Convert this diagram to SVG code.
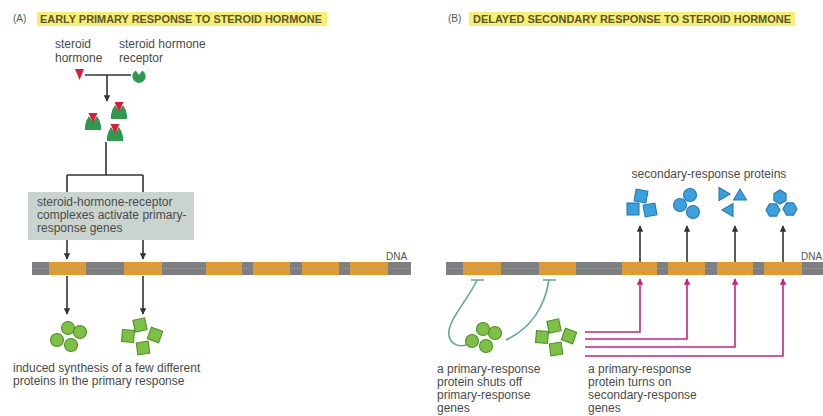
<svg xmlns="http://www.w3.org/2000/svg" width="823" height="416" viewBox="0 0 823 416">
  <style>
    .lbl { font-family: "Liberation Sans", Arial, sans-serif; font-size: 12px; fill: #4a4a4a; }
    .ttl { font-family: "Liberation Sans", Arial, sans-serif; font-size: 10.5px; font-weight: bold; fill: #5a5530; }
    .tag { font-family: "Liberation Sans", Arial, sans-serif; font-size: 10px; fill: #555; }
    .hl { fill: #f7ef72; }
    .ln { stroke: #333; stroke-width: 1.6; fill: none; }
    .mg { stroke: #c8237f; stroke-width: 1.6; fill: none; }
    .tl { stroke: #5ea898; stroke-width: 1.6; fill: none; }
    .dna { fill: #7e7f81; }
    .dnaline { stroke: #9a9b9d; stroke-width: 1; }
    .gene { fill: #e39a2c; }
    .gc { fill: #7cc143; stroke: #4f8f2a; stroke-width: 1.1; }
    .bl { fill: #3ba0de; stroke: #2a78b2; stroke-width: 1.1; }
    .rcp { fill: #2f9a4f; }
    .hor { fill: #d81e3c; }
  </style>
  <defs>
    <marker id="ah" viewBox="0 0 10 10" refX="9" refY="5" markerWidth="4" markerHeight="4" orient="auto" markerUnits="strokeWidth">
      <path d="M0 0 L10 5 L0 10 Z" fill="#333"/>
    </marker>
    <marker id="ahm" viewBox="0 0 10 10" refX="9" refY="5" markerWidth="4" markerHeight="4" orient="auto" markerUnits="strokeWidth">
      <path d="M0 0 L10 5 L0 10 Z" fill="#c8237f"/>
    </marker>
    <!-- hormone-receptor complex: green bell with the red hormone in its notch -->
    <g id="cplx">
      <path class="rcp" d="M-8 16 L-8 12 Q-7 6 -4 2 L0 8 L4 2 Q7 6 8 12 L8 16 Z"/>
      <path class="hor" d="M-4.5 -1 L4.5 -1 L0 9 Z"/>
    </g>
    <rect id="sq" x="-6" y="-6" width="12" height="12"/>
    <polygon id="hex" points="7,0 3.5,6.1 -3.5,6.1 -7,0 -3.5,-6.1 3.5,-6.1"/>
    <polygon id="tri" points="7,0 -4,6.5 -4,-6.5"/>
  </defs>

  <rect width="823" height="416" fill="#ffffff"/>

  <!-- panel headings -->
  <g id="headA">
    <text class="tag" x="13" y="22">(A)</text>
    <rect class="hl" x="37" y="12" width="290" height="14"/>
    <text class="ttl" x="40" y="23" textLength="282" lengthAdjust="spacingAndGlyphs">EARLY PRIMARY RESPONSE TO STEROID HORMONE</text>
  </g>
  <g id="headB">
    <text class="tag" x="448" y="22">(B)</text>
    <rect class="hl" x="469" y="12" width="326" height="14"/>
    <text class="ttl" x="473" y="23" textLength="318" lengthAdjust="spacingAndGlyphs">DELAYED SECONDARY RESPONSE TO STEROID HORMONE</text>
  </g>

  <!-- connectors -->
  <g id="connectors">
    <path class="ln" d="M85 75 H131"/>
    <path class="ln" d="M107 75 V101" marker-end="url(#ah)"/>
    <path class="ln" d="M106 142 V175 M67 175 H143 M67 175 V192 M143 175 V192"/>
    <path class="ln" d="M67 240 V259" marker-end="url(#ah)"/>
    <path class="ln" d="M143 240 V259" marker-end="url(#ah)"/>
    <path class="ln" d="M67 276 V314" marker-end="url(#ah)"/>
    <path class="ln" d="M143 276 V314" marker-end="url(#ah)"/>

    <path class="ln" d="M640 262 V226" marker-end="url(#ah)"/>
    <path class="ln" d="M687 262 V226" marker-end="url(#ah)"/>
    <path class="ln" d="M735 262 V226" marker-end="url(#ah)"/>
    <path class="ln" d="M783 262 V226" marker-end="url(#ah)"/>

    <path class="mg" d="M585 332 H640 V279" marker-end="url(#ahm)"/>
    <path class="mg" d="M585 339 H687 V279" marker-end="url(#ahm)"/>
    <path class="mg" d="M585 347 H735 V279" marker-end="url(#ahm)"/>
    <path class="mg" d="M585 356 H783 V279" marker-end="url(#ahm)"/>

    <path class="tl" d="M471 280 H484 M477 280 C468 300 446 322 449 336 C451 345 460 347 466 345"/>
    <path class="tl" d="M543 280 H556 M549 280 C545 305 532 328 506 340"/>
  </g>

  <!-- hormone and receptor -->
  <g id="hormone">
    <text class="lbl" x="55" y="48">steroid</text>
    <text class="lbl" x="55" y="62">hormone</text>
    <path class="hor" d="M75 69 L84 69 L79.5 80 Z"/>
  </g>
  <g id="receptor">
    <text class="lbl" x="119" y="48">steroid hormone</text>
    <text class="lbl" x="119" y="62">receptor</text>
    <path class="rcp" d="M135.8 70.4 L139 75 L142.2 70.4 A6.7 6.7 0 1 1 135.8 70.4 Z"/>
  </g>

  <g id="complexes">
    <use href="#cplx" x="119" y="103"/>
    <use href="#cplx" x="93" y="114"/>
    <use href="#cplx" x="115" y="125"/>
  </g>

  <g id="activation-box">
    <rect x="28" y="192" width="166" height="48" fill="#c9d4cf"/>
    <text class="lbl" x="37" y="206">steroid-hormone-receptor</text>
    <text class="lbl" x="37" y="219">complexes activate primary-</text>
    <text class="lbl" x="37" y="232">response genes</text>
  </g>

  <!-- DNA strands with genes -->
  <g id="dnaA">
    <rect class="dna" x="32" y="262" width="379" height="13"/>
    <rect class="gene" x="49" y="262" width="37" height="13"/>
    <rect class="gene" x="124" y="262" width="38" height="13"/>
    <rect class="gene" x="206" y="262" width="36" height="13"/>
    <rect class="gene" x="253" y="262" width="37" height="13"/>
    <rect class="gene" x="302" y="262" width="37" height="13"/>
    <rect class="gene" x="350" y="262" width="38" height="13"/>
    <line class="dnaline" x1="32" y1="268.5" x2="411" y2="268.5" opacity="0.5"/>
    <text class="tag" x="386" y="260">DNA</text>
  </g>
  <g id="dnaB">
    <rect class="dna" x="446" y="262" width="377" height="13"/>
    <rect class="gene" x="463" y="262" width="38" height="13"/>
    <rect class="gene" x="539" y="262" width="37" height="13"/>
    <rect class="gene" x="622" y="262" width="35" height="13"/>
    <rect class="gene" x="668" y="262" width="37" height="13"/>
    <rect class="gene" x="717" y="262" width="36" height="13"/>
    <rect class="gene" x="764" y="262" width="38" height="13"/>
    <line class="dnaline" x1="446" y1="268.5" x2="823" y2="268.5" opacity="0.5"/>
    <text class="tag" x="801" y="260">DNA</text>
  </g>

  <!-- primary-response proteins, panel A -->
  <g id="circlesA" class="gc">
    <circle cx="68" cy="328" r="6.5"/>
    <circle cx="80" cy="332" r="6.5"/>
    <circle cx="57" cy="340" r="6.5"/>
    <circle cx="71" cy="345" r="6.5"/>
  </g>
  <g id="squaresA" class="gc">
    <use href="#sq" transform="translate(140 325) rotate(-12)"/>
    <use href="#sq" transform="translate(128 336) rotate(5)"/>
    <use href="#sq" transform="translate(155 335) rotate(20)"/>
    <use href="#sq" transform="translate(143 348) rotate(-8)"/>
  </g>
  <g id="captionA">
    <text class="lbl" x="13" y="372">induced synthesis of a few different</text>
    <text class="lbl" x="13" y="385">proteins in the primary response</text>
  </g>

  <!-- primary-response proteins, panel B -->
  <g id="circlesB" class="gc">
    <circle cx="483" cy="329" r="6.5"/>
    <circle cx="495" cy="333" r="6.5"/>
    <circle cx="472" cy="341" r="6.5"/>
    <circle cx="486" cy="346" r="6.5"/>
  </g>
  <g id="squaresB" class="gc">
    <use href="#sq" transform="translate(554 326) rotate(-12)"/>
    <use href="#sq" transform="translate(542 337) rotate(5)"/>
    <use href="#sq" transform="translate(569 336) rotate(20)"/>
    <use href="#sq" transform="translate(556 349) rotate(-8)"/>
  </g>
  <g id="captionB1">
    <text class="lbl" x="437" y="373">a primary-response</text>
    <text class="lbl" x="437" y="386">protein shuts off</text>
    <text class="lbl" x="437" y="399">primary-response</text>
    <text class="lbl" x="437" y="412">genes</text>
  </g>
  <g id="captionB2">
    <text class="lbl" x="588" y="373">a primary-response</text>
    <text class="lbl" x="588" y="386">protein turns on</text>
    <text class="lbl" x="588" y="399">secondary-response</text>
    <text class="lbl" x="588" y="412">genes</text>
  </g>

  <!-- secondary-response proteins -->
  <g id="secondary">
    <text class="lbl" x="709" y="178" text-anchor="middle" font-size="11.5">secondary-response proteins</text>
    <g class="bl">
      <use href="#sq" transform="translate(641 196) rotate(10)"/>
      <use href="#sq" transform="translate(633 209)"/>
      <use href="#sq" transform="translate(650 210) rotate(-10)"/>
    </g>
    <g class="bl">
      <circle cx="690" cy="195" r="6.5"/>
      <circle cx="680" cy="205" r="6.5"/>
      <circle cx="693" cy="212" r="6.5"/>
    </g>
    <g class="bl">
      <use href="#tri" transform="translate(723 194)"/>
      <use href="#tri" transform="translate(740 196) rotate(-90)"/>
      <use href="#tri" transform="translate(729 210) rotate(180)"/>
    </g>
    <g class="bl">
      <use href="#hex" transform="translate(780 197) rotate(30)"/>
      <use href="#hex" transform="translate(773 210)"/>
      <use href="#hex" transform="translate(790 209)"/>
    </g>
  </g>
</svg>
